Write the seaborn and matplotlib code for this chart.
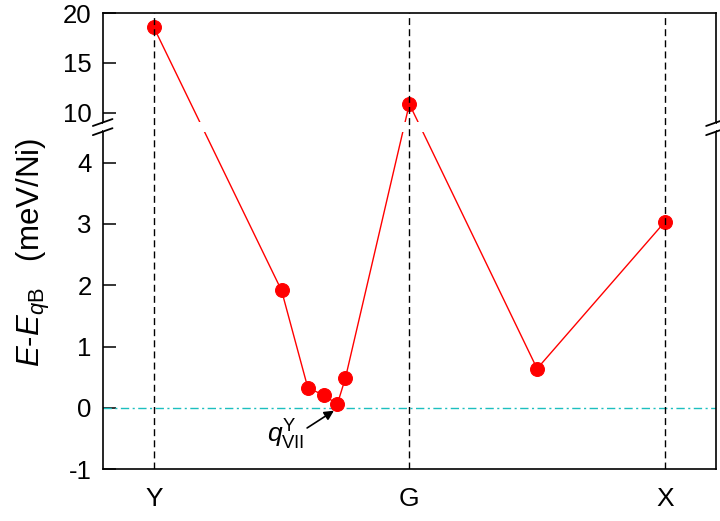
import numpy as np
import matplotlib
matplotlib.use('Agg')
import matplotlib.pyplot as plt
import seaborn as sns
from matplotlib.patches import Rectangle
from matplotlib.lines import Line2D

# path coordinate along the k-path: Y=0, G=1, X=2
path_pos = [0.0, 0.5, 0.603, 0.668, 0.718, 0.75, 1.0, 1.5, 2.0]
energy = [18.59, 1.915, 0.326, 0.205, 0.059, 0.489, 10.88, 0.64, 3.034]
kpoint_pos = [0, 1, 2]
kpoint_labels = ['Y', 'G', 'X']
yticks_low = [-1, 0, 1, 2, 3, 4]
yticks_high = [10, 15, 20]

# broken y axis: values between brk_lo and brk_hi are cut out, upper part squeezed
brk_lo, brk_hi = 4.58, 8.56
squeeze = 0.162


def fwd(y):
    y = np.asarray(y, dtype=float)
    return np.where(y <= brk_lo, y, brk_lo + (np.maximum(y, brk_hi) - brk_hi) * squeeze)


def inv(z):
    z = np.asarray(z, dtype=float)
    return np.where(z <= brk_lo, z, brk_hi + (z - brk_lo) / squeeze)


sns.set_theme(style='ticks')
plt.rcParams['font.family'] = ['Liberation Sans', 'DejaVu Sans']
plt.rcParams['mathtext.fontset'] = 'custom'
plt.rcParams['mathtext.rm'] = 'Liberation Sans'
plt.rcParams['mathtext.it'] = 'Liberation Sans:italic'
plt.rcParams['text.color'] = 'black'
plt.rcParams['axes.labelcolor'] = 'black'
plt.rcParams['xtick.color'] = 'black'
plt.rcParams['ytick.color'] = 'black'

fig = plt.figure(figsize=(7.2, 5.21), dpi=100)
ax = fig.add_axes([0.1426, 0.0992, 0.8518, 0.8753])

sns.lineplot(x=path_pos, y=energy, ax=ax, color='red', lw=1, marker='o',
             markersize=10, markeredgecolor='red', zorder=3)
ax.set_yscale('function', functions=(fwd, inv))
ax.set_xlim(-0.2, 2.2)
ax.set_ylim(-1, 20)

for p in kpoint_pos:
    ax.axvline(p, color='black', lw=1, ls=(0, (5, 3)), zorder=4)
ax.axhline(0, color='#1CBFBF', lw=1, ls=(0, (6, 2.5, 1.5, 2.5)), zorder=1.5)

# gap in the curve at the break
ax.add_patch(Rectangle((0, 0.740), 1, 0.021, transform=ax.transAxes,
                       color='white', lw=0, zorder=3.5))
# break marks on both side spines
for xs in [0, 1]:
    ax.add_patch(Rectangle((xs - 0.01, 0.743), 0.02, 0.015, transform=ax.transAxes,
                           color='white', lw=0, zorder=5, clip_on=False))
    for yc in [0.7404, 0.7605]:
        ax.add_line(Line2D([xs - 0.016, xs + 0.016], [yc - 0.0076, yc + 0.0076],
                           transform=ax.transAxes, color='black', lw=1.3,
                           zorder=6, clip_on=False))

ax.annotate('', xy=(0.705, -0.044), xytext=(0.600, -0.326),
            arrowprops=dict(arrowstyle='-|>', color='black', lw=1.2,
                            mutation_scale=14, shrinkA=0, shrinkB=0))
ax.text(0.442, -0.56, r'$q_{\mathrm{VII}}^{\mathrm{Y}}$', fontsize=19,
        ha='left', va='baseline')

ax.set_yticks(yticks_low + yticks_high)
ax.set_yticklabels([str(v) for v in yticks_low + yticks_high])
ax.set_xticks(kpoint_pos)
ax.set_xticklabels(kpoint_labels)
ax.tick_params(axis='y', direction='in', length=9, width=1.1, pad=8, labelsize=18.5)
ax.tick_params(axis='x', length=0, pad=13, labelsize=19)
ax.set_xlabel('')
ax.set_ylabel(r'$E$-$E_{q\mathrm{B}}$   (meV/Ni)', fontsize=22.5, labelpad=8)
ax.yaxis.label.set_y(0.475)
for s in ax.spines.values():
    s.set_linewidth(1.2)
    s.set_color('black')

fig.savefig('out.png', dpi=100)
